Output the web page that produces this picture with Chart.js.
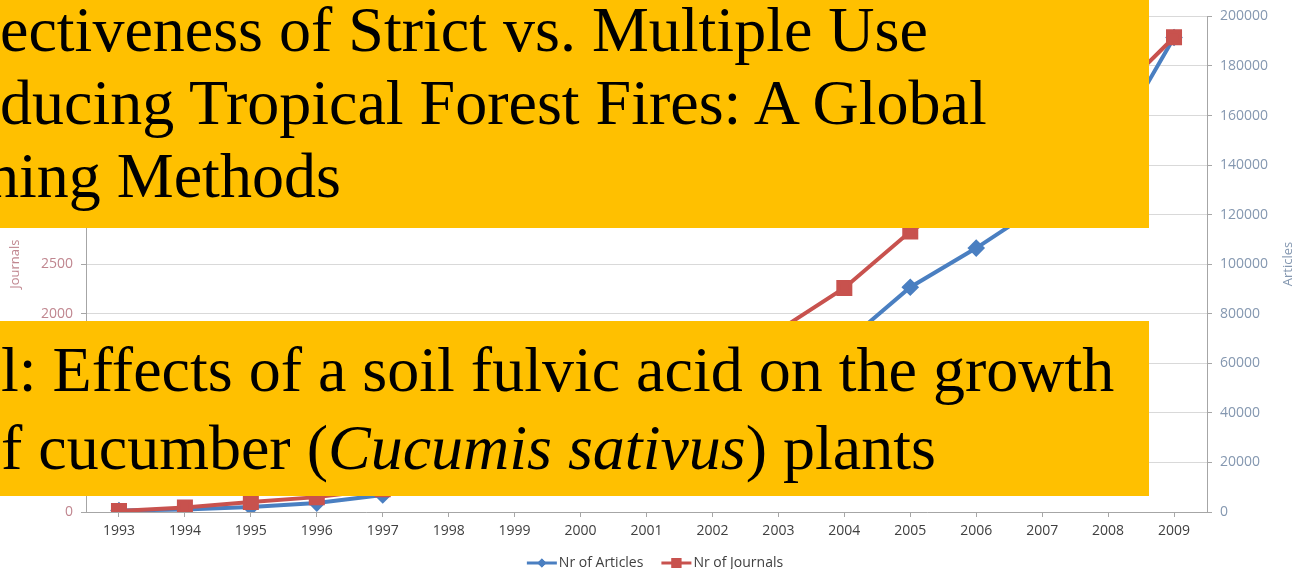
<!DOCTYPE html>
<html>
<head>
<meta charset="utf-8">
<script src="https://cdn.jsdelivr.net/npm/chart.js@4.4.1/dist/chart.umd.min.js"></script>
<style>
    body { margin: 0; background: #fff; overflow: hidden; }
    #wrap { position: relative; width: 1309px; height: 569px; overflow: hidden; }
    #grafico { display: block; }
    .box { position: absolute; left: 0; background: #ffc000; overflow: hidden; }
    .ln {
        position: absolute; white-space: nowrap;
        font-family: 'Liberation Serif', 'Times New Roman', serif;
        font-size: 64px; line-height: 64px; color: #000;
    }
</style>
</head>
<body>
<div id="wrap">
    <canvas id="grafico" width="1309" height="569"></canvas>
    <div class="box" style="top:0;width:1149px;height:228px">
        <div class="ln" style="top:-2px;left:0">ectiveness of Strict vs. Multiple Use</div>
        <div class="ln" style="top:71px;left:0">ducing Tropical Forest Fires: A Global</div>
        <div class="ln" style="top:144px;left:-13px">hing Methods</div>
    </div>
    <div class="box" style="top:321px;width:1149px;height:175px">
        <div class="ln" style="top:17px;left:1px">l: Effects of a soil fulvic acid on the growth</div>
        <div class="ln" style="top:95px;left:-31px">of cucumber (<i>Cucumis sativus</i>) plants</div>
    </div>
</div>
<script>
const anos = ['1993', '1994', '1995', '1996', '1997', '1998', '1999', '2000', '2001',
              '2002', '2003', '2004', '2005', '2006', '2007', '2008', '2009'];
// Nr of Articles (eixo da direita)
const artigos = [600, 1000, 2000, 3600, 6900, 12000, 17000, 23000, 30000,
                 38000, 50000, 68000, 90700, 106500, 124000, 145500, 191500];
// Nr of Journals (eixo da esquerda)
const revistas = [10, 45, 100, 150, 230, 350, 500, 700, 950,
                  1300, 1830, 2260, 2830, 3250, 3700, 4130, 4790];

const fonteTicks = { family: 'Open Sans', size: 14 };
const corEixo = '#a6a6a6';

// legenda desenhada à mão: linha com marcador no meio, como no Excel
const legendaExcel = {
    id: 'legendaExcel',
    afterDraw(chart) {
        const ctx = chart.ctx;
        const sets = chart.data.datasets;
        ctx.save();
        ctx.font = '14px "Open Sans"';
        const linha = 30, gap = 2, espaco = 18;
        let total = 0;
        sets.forEach((ds, i) => {
            total += linha + gap + ctx.measureText(ds.label).width + (i ? espaco : 0);
        });
        let x = 655 - total / 2;
        const y = 563;
        sets.forEach((ds, i) => {
            if (i) x += espaco;
            ctx.strokeStyle = ds.borderColor;
            ctx.lineWidth = 3;
            ctx.beginPath();
            ctx.moveTo(x, y);
            ctx.lineTo(x + linha, y);
            ctx.stroke();
            ctx.fillStyle = ds.borderColor;
            Chart.helpers.drawPoint(ctx, { pointStyle: ds.pointStyle, radius: ds.pointRadius - 1.5, borderWidth: 0 }, x + linha / 2, y);
            ctx.fill();
            x += linha + gap;
            ctx.fillStyle = '#404040';
            ctx.textBaseline = 'middle';
            ctx.fillText(ds.label, x, y);
            x += ctx.measureText(ds.label).width;
        });

        // título do eixo da direita, lido de baixo para cima
        ctx.translate(1288, 264);
        ctx.rotate(-Math.PI / 2);
        ctx.font = '13px "Open Sans"';
        ctx.fillStyle = '#8497b0';
        ctx.textAlign = 'center';
        ctx.textBaseline = 'middle';
        ctx.fillText('Articles', 0, 0);
        ctx.restore();
    }
};

window.onload = function() {
    const ctx = document.getElementById('grafico').getContext('2d');
    new Chart(ctx, {
        type: 'line',
        data: {
            labels: anos,
            datasets: [
                {
                    label: 'Nr of Articles',
                    data: artigos,
                    yAxisID: 'yA',
                    borderColor: '#4a7fc1',
                    backgroundColor: '#4a7fc1',
                    borderWidth: 4,
                    pointStyle: 'rectRot',
                    pointRadius: 6,
                    order: 2
                },
                {
                    label: 'Nr of Journals',
                    data: revistas,
                    yAxisID: 'yJ',
                    borderColor: '#c8524e',
                    backgroundColor: '#c8524e',
                    borderWidth: 4,
                    pointStyle: 'rect',
                    pointRadius: 8.5,
                    order: 1
                }
            ]
        },
        options: {
            responsive: false,
            animation: false,
            layout: { padding: { top: 16, left: 0, right: 0, bottom: 0 } },
            scales: {
                x: {
                    offset: true,
                    afterFit: (s) => { s.height = 57; },
                    grid: { drawOnChartArea: false, offset: false, tickLength: 5, color: corEixo },
                    border: { color: corEixo },
                    ticks: { font: fonteTicks, color: '#404040', padding: 6, maxRotation: 0, autoSkip: false }
                },
                yJ: {
                    position: 'left',
                    min: 0,
                    max: 5000,
                    afterFit: (s) => { s.width = 86; },
                    grid: { color: '#d9d9d9', tickLength: 5, tickColor: corEixo },
                    border: { color: corEixo },
                    ticks: { stepSize: 500, font: fonteTicks, color: '#c0868f', padding: 8,
                             callback: (v) => String(v) },
                    title: { display: true, text: 'Journals', color: '#c0868f',
                             font: { family: 'Open Sans', size: 13 }, padding: { top: 7, bottom: 0 } }
                },
                yA: {
                    position: 'right',
                    min: 0,
                    max: 200000,
                    afterFit: (s) => { s.width = 102; },
                    grid: { drawOnChartArea: false, tickLength: 5, color: corEixo },
                    border: { color: corEixo },
                    ticks: { stepSize: 20000, font: fonteTicks, color: '#8497b0', padding: 8,
                             callback: (v) => String(v) }
                }
            },
            plugins: {
                legend: { display: false },
                tooltip: { enabled: false }
            }
        },
        plugins: [legendaExcel]
    });
};
</script>
</body>
</html>
